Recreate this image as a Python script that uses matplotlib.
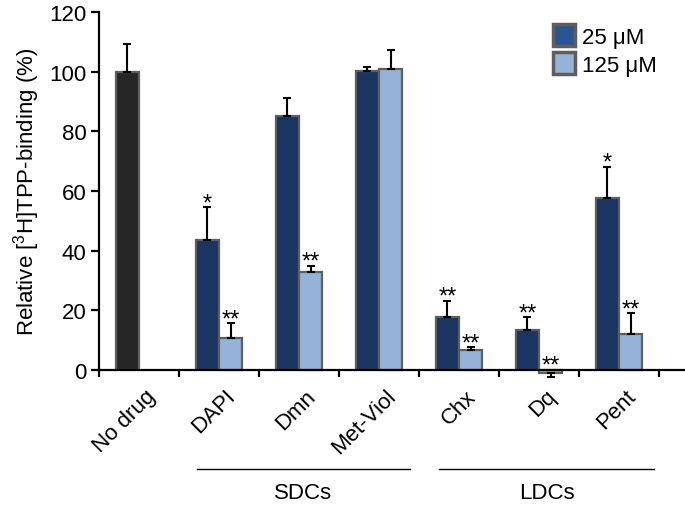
import matplotlib
matplotlib.use("Agg")
import matplotlib.pyplot as plt
import matplotlib.transforms as mtrans
import numpy as np
from matplotlib.patches import Patch
from matplotlib.lines import Line2D

plt.rcParams['font.family'] = ['Liberation Sans', 'DejaVu Sans']
plt.rcParams['mathtext.default'] = 'regular'

categories = ["No drug", "DAPI", "Dmn", "Met-Viol", "Chx", "Dq", "Pent"]
val_25 = [100, 43.5, 85.3, 100.2, 17.8, 13.5, 57.5]
err_25 = [9.2, 11.0, 6.0, 1.3, 5.4, 4.2, 10.7]
val_125 = [None, 10.7, 33.0, 101.0, 6.8, -1.0, 11.9]
err_125 = [None, 5.0, 2.0, 6.2, 0.8, 1.2, 7.1]
stars_25 = ["", "*", "", "", "**", "**", "*"]
stars_125 = [None, "**", "**", "", "**", "**", "**"]
groups = [("SDCs", 1.225, 3.89, 2.55), ("LDCs", 4.25, 6.94, 5.6)]

c_nodrug = "#262626"
c_dark = "#1a355f"
c_light = "#95b3d9"
c_edge = "#5e5e5e"
FS = 16

fig = plt.figure(figsize=(6.85, 5.06), dpi=100)
ax = fig.add_axes([99/685, 1-371/506, (685-99)/685, 358/506])

w = 0.29
n = len(categories)
centers = np.arange(n) + 0.5
eb_kw = dict(fmt='none', ecolor='black', elinewidth=1.5, capsize=3, capthick=1.5, zorder=3)
for i in range(n):
    col = c_nodrug if i == 0 else c_dark
    x1 = centers[i] - w/2
    ax.bar(x1, val_25[i], width=w, color=col, edgecolor=c_edge, linewidth=1.6, zorder=2)
    ax.errorbar(x1, val_25[i], yerr=[[0], [err_25[i]]], **eb_kw)
    top = val_25[i] + err_25[i]
    if stars_25[i]:
        ax.annotate(stars_25[i], (x1, top), xytext=(0, -5), textcoords='offset points',
                    ha='center', va='bottom', fontsize=17)
    if val_125[i] is not None:
        x2 = centers[i] + w/2
        v = val_125[i]
        e = err_125[i]
        ax.bar(x2, v, width=w, color=c_light, edgecolor=c_edge, linewidth=1.6, zorder=2,
               clip_on=False)
        if v >= 0:
            ax.errorbar(x2, v, yerr=[[0], [e]], **eb_kw)
            top2 = v + e
        else:
            eb = ax.errorbar(x2, v, yerr=[[e], [0]], **eb_kw)
            for art in eb.lines[1] + eb.lines[2]:
                art.set_clip_on(False)
            top2 = 0
        if stars_125[i]:
            ax.annotate(stars_125[i], (x2, top2), xytext=(0, -5), textcoords='offset points',
                        ha='center', va='bottom', fontsize=17)

ax.set_xlim(0, 7.325)
ax.set_ylim(0, 120)
ax.set_yticks(np.arange(0, 121, 20))
ax.set_xticks(np.arange(0, n + 1))
ax.set_xticklabels([])
ax.set_xticks(centers, minor=True)
ax.set_xticklabels(categories, minor=True, rotation=45, ha='right', va='top',
                   rotation_mode='anchor', fontsize=FS)
ax.tick_params(axis='x', which='minor', length=0, pad=6)
ax.tick_params(axis='x', which='major', direction='out', length=5, width=1.6)
ax.tick_params(axis='y', direction='out', length=6, width=1.6, labelsize=FS, pad=3)
for lbl in ax.get_xticklabels(minor=True):
    lbl.set_transform(lbl.get_transform() + mtrans.ScaledTranslation(6/100, -7/100, fig.dpi_scale_trans))

for s in ['top', 'right']:
    ax.spines[s].set_visible(False)
for s in ['left', 'bottom']:
    ax.spines[s].set_linewidth(1.6)

ax.set_ylabel("Relative [$^3$H]TPP-binding (%)", fontsize=FS, labelpad=5)

trans = mtrans.blended_transform_factory(ax.transData, ax.transAxes)
for name, xa, xb, xc in groups:
    ax.add_line(Line2D([xa, xb], [-0.2765, -0.2765], transform=trans, color='black',
                       linewidth=1.0, clip_on=False))
    ax.text(xc, -0.341, name, transform=trans, ha='center', va='center', fontsize=FS)

handles = [Patch(facecolor="#2a5594", edgecolor=c_edge, linewidth=2.5, label="25 \u03bcM"),
           Patch(facecolor=c_light, edgecolor=c_edge, linewidth=2.5, label="125 \u03bcM")]
fig.legend(handles=handles, loc='upper left', bbox_to_anchor=(553/685, 1-25/506),
           frameon=False, fontsize=FS, handlelength=1.0, handleheight=1.15,
           handletextpad=0.3, labelspacing=0.2, borderpad=0, borderaxespad=0)

fig.savefig("out.png", dpi=100)
